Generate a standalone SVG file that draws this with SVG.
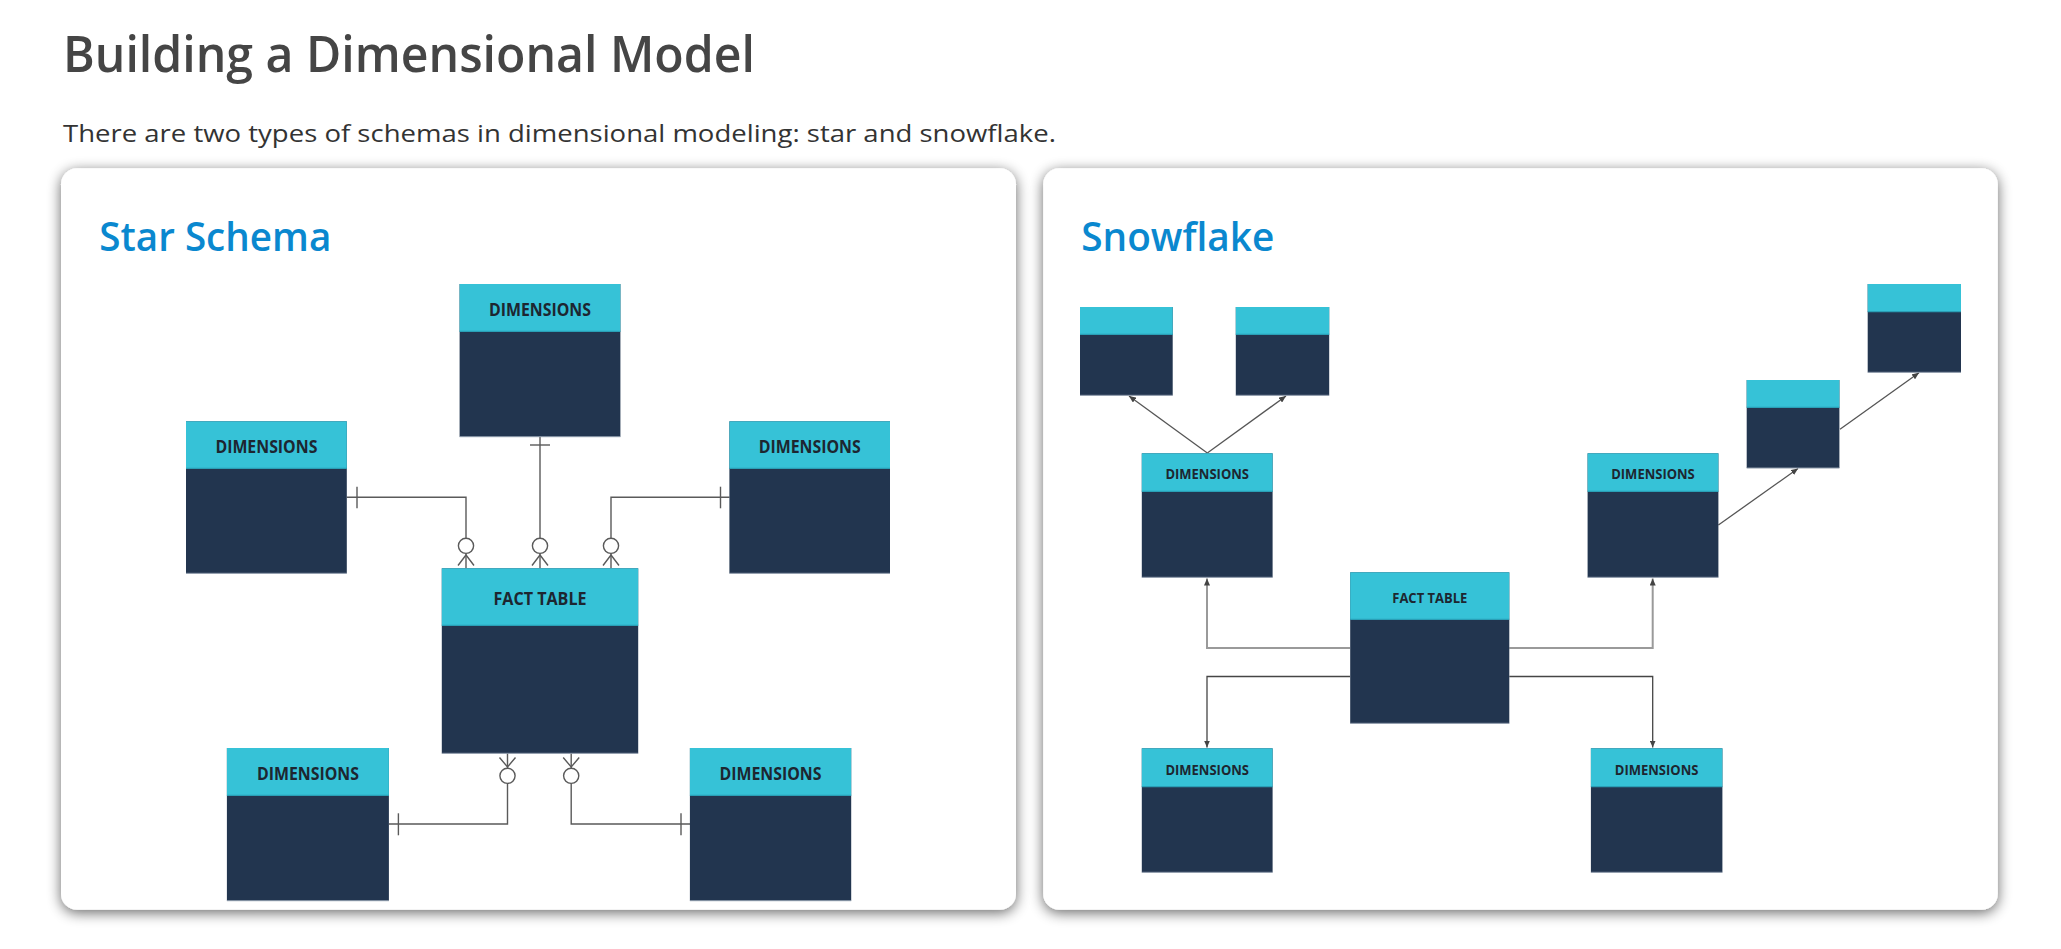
<svg xmlns="http://www.w3.org/2000/svg" width="2061" height="949" viewBox="0 0 2061 949">
<style>
.h1{font-family:"Open Sans","Liberation Sans",sans-serif;font-weight:600;fill:#454545}
.sub{font-family:"Open Sans","Liberation Sans",sans-serif;font-weight:400;fill:#333333}
.pt{font-family:"Open Sans","Liberation Sans",sans-serif;font-weight:600;fill:#0a88cf}
.lbl{font-family:"Open Sans","Liberation Sans",sans-serif;font-weight:700;fill:#1d2630;text-anchor:middle}
.hd{fill:#36c2d7}
.bd{fill:#22354f}
.ed{stroke:#8b98a8;stroke-width:1;fill:none}
.dv{stroke:#2a9fb6;stroke-width:1.2}
.er{stroke:#5a5a5a;stroke-width:1.4;fill:none}
.cir{stroke:#5a5a5a;stroke-width:1.4;fill:#ffffff}
.up{stroke:#9a9a9a;stroke-width:2;fill:none}
.dn{stroke:#454545;stroke-width:1.3;fill:none}
.dg{stroke:#555555;stroke-width:1.3;fill:none}
</style>
<defs>
<filter id="sh" x="-5%" y="-5%" width="110%" height="112%">
<feGaussianBlur in="SourceAlpha" stdDeviation="7"/>
<feOffset dy="3" result="b"/>
<feComponentTransfer><feFuncA type="linear" slope="0.6"/></feComponentTransfer>
<feMerge><feMergeNode/><feMergeNode in="SourceGraphic"/></feMerge>
</filter>
<marker id="ar" markerWidth="8" markerHeight="6" refX="7" refY="3" orient="auto" markerUnits="userSpaceOnUse">
<path d="M0,0 L7,3 L0,6 Z" fill="#444444"/>
</marker>
</defs>
<rect width="2061" height="949" fill="#ffffff"/>
<text class="h1" x="63" y="72" font-size="50" textLength="692" lengthAdjust="spacingAndGlyphs">Building a Dimensional Model</text>
<text class="sub" x="63" y="141.7" font-size="24" textLength="993" lengthAdjust="spacingAndGlyphs">There are two types of schemas in dimensional modeling: star and snowflake.</text>

<g id="star-panel">
<rect x="61" y="168.3" width="955" height="741.5" rx="16" fill="#ffffff" filter="url(#sh)"/>
<text class="pt" x="99.3" y="250.7" font-size="40.5" textLength="232" lengthAdjust="spacingAndGlyphs">Star Schema</text>
</g>
<g id="snow-panel">
<rect x="1043.2" y="168.3" width="954.6" height="741.5" rx="16" fill="#ffffff" filter="url(#sh)"/>
<text class="pt" x="1081.3" y="250.7" font-size="40.5" textLength="193" lengthAdjust="spacingAndGlyphs">Snowflake</text>
</g>

<g id="connectors">
<path class="er" d="M540,436.7 V568.3"/>
<path class="er" d="M530,445 H550"/>
<path class="er" d="M346.8,497.3 H466 V568.3"/>
<path class="er" d="M357,486.7 V508.3"/>
<path class="er" d="M729.5,497.3 H611 V568.3"/>
<path class="er" d="M720.5,486.7 V508.3"/>
<path class="er" d="M507.5,753.3 V824 H389"/>
<path class="er" d="M398.4,813.3 V835.3"/>
<path class="er" d="M571.2,753.3 V824 H690"/>
<path class="er" d="M681,813.3 V835.3"/>
<circle class="cir" cx="540" cy="545.8" r="7.6"/>
<circle class="cir" cx="466" cy="545.8" r="7.6"/>
<circle class="cir" cx="611" cy="545.8" r="7.6"/>
<circle class="cir" cx="507.5" cy="775.8" r="7.6"/>
<circle class="cir" cx="571.2" cy="775.8" r="7.6"/>
<path class="er" d="M532,565.5 L540,555 L548,565.5"/>
<path class="er" d="M458,565.5 L466,555 L474,565.5"/>
<path class="er" d="M603,565.5 L611,555 L619,565.5"/>
<path class="er" d="M499.5,757.5 L507.5,767 L515.5,757.5"/>
<path class="er" d="M563.2,757.5 L571.2,767 L579.2,757.5"/>
<path class="up" d="M1350,648 H1207 V578.5" marker-end="url(#ar)"/>
<path class="up" d="M1509.3,648 H1652.7 V578.5" marker-end="url(#ar)"/>
<path class="dn" d="M1350,676.5 H1207 V747.5" marker-end="url(#ar)"/>
<path class="dn" d="M1509.3,676.5 H1652.7 V747.5" marker-end="url(#ar)"/>
<path class="dg" d="M1207.3,453 L1129,396" marker-end="url(#ar)"/>
<path class="dg" d="M1207.3,453 L1286,396" marker-end="url(#ar)"/>
<path class="dg" d="M1718.4,525 L1798,468.5" marker-end="url(#ar)"/>
<path class="dg" d="M1840,429.3 L1919,372.8" marker-end="url(#ar)"/>
</g>

<g id="s-dim-top">
<rect class="bd" x="459.6" y="284" width="160.8" height="152.7"/>
<rect class="hd" x="459.6" y="284" width="160.8" height="47.3"/>
<line class="dv" x1="459.6" y1="331.3" x2="620.4" y2="331.3"/>
<line class="ed" x1="459.6" y1="436.7" x2="620.4" y2="436.7"/>
<text class="lbl" x="540" y="316" font-size="17" textLength="102" lengthAdjust="spacingAndGlyphs">DIMENSIONS</text>
</g>
<g id="s-dim-left">
<rect class="bd" x="186" y="421.3" width="160.8" height="152"/>
<rect class="hd" x="186" y="421.3" width="160.8" height="47"/>
<line class="dv" x1="186" y1="468.3" x2="346.8" y2="468.3"/>
<line class="ed" x1="186" y1="573.3" x2="346.8" y2="573.3"/>
<text class="lbl" x="266.4" y="453.3" font-size="17" textLength="102" lengthAdjust="spacingAndGlyphs">DIMENSIONS</text>
</g>
<g id="s-dim-right">
<rect class="bd" x="729.4" y="421.3" width="160.6" height="152"/>
<rect class="hd" x="729.4" y="421.3" width="160.6" height="47"/>
<line class="dv" x1="729.4" y1="468.3" x2="890" y2="468.3"/>
<line class="ed" x1="729.4" y1="573.3" x2="890" y2="573.3"/>
<text class="lbl" x="809.7" y="453.3" font-size="17" textLength="102" lengthAdjust="spacingAndGlyphs">DIMENSIONS</text>
</g>
<g id="s-fact">
<rect class="bd" x="441.8" y="568.3" width="196.4" height="185"/>
<rect class="hd" x="441.8" y="568.3" width="196.4" height="57"/>
<line class="dv" x1="441.8" y1="625.3" x2="638.2" y2="625.3"/>
<line class="ed" x1="441.8" y1="753.3" x2="638.2" y2="753.3"/>
<text class="lbl" x="540" y="605" font-size="17" textLength="93" lengthAdjust="spacingAndGlyphs">FACT TABLE</text>
</g>
<g id="s-dim-bl">
<rect class="bd" x="226.9" y="748" width="162" height="152.7"/>
<rect class="hd" x="226.9" y="748" width="162" height="47.3"/>
<line class="dv" x1="226.9" y1="795.3" x2="388.9" y2="795.3"/>
<line class="ed" x1="226.9" y1="900.7" x2="388.9" y2="900.7"/>
<text class="lbl" x="308" y="780" font-size="17" textLength="102" lengthAdjust="spacingAndGlyphs">DIMENSIONS</text>
</g>
<g id="s-dim-br">
<rect class="bd" x="689.9" y="748" width="161.3" height="152.7"/>
<rect class="hd" x="689.9" y="748" width="161.3" height="47.3"/>
<line class="dv" x1="689.9" y1="795.3" x2="851.2" y2="795.3"/>
<line class="ed" x1="689.9" y1="900.7" x2="851.2" y2="900.7"/>
<text class="lbl" x="770.5" y="780" font-size="17" textLength="102" lengthAdjust="spacingAndGlyphs">DIMENSIONS</text>
</g>

<g id="f-sub-1">
<rect class="bd" x="1080" y="307" width="92.7" height="88.3"/>
<rect class="hd" x="1080" y="307" width="92.7" height="27.3"/>
<line class="dv" x1="1080" y1="334.3" x2="1172.7" y2="334.3"/>
<line class="ed" x1="1080" y1="395.3" x2="1172.7" y2="395.3"/>
</g>
<g id="f-sub-2">
<rect class="bd" x="1235.8" y="307" width="93.4" height="88.3"/>
<rect class="hd" x="1235.8" y="307" width="93.4" height="27.3"/>
<line class="dv" x1="1235.8" y1="334.3" x2="1329.2" y2="334.3"/>
<line class="ed" x1="1235.8" y1="395.3" x2="1329.2" y2="395.3"/>
</g>
<g id="f-sub-3">
<rect class="bd" x="1746.7" y="380" width="92.7" height="88"/>
<rect class="hd" x="1746.7" y="380" width="92.7" height="27.3"/>
<line class="dv" x1="1746.7" y1="407.3" x2="1839.4" y2="407.3"/>
<line class="ed" x1="1746.7" y1="468" x2="1839.4" y2="468"/>
</g>
<g id="f-sub-4">
<rect class="bd" x="1867.7" y="284" width="93.3" height="88.3"/>
<rect class="hd" x="1867.7" y="284" width="93.3" height="27.7"/>
<line class="dv" x1="1867.7" y1="311.7" x2="1961" y2="311.7"/>
<line class="ed" x1="1867.7" y1="372.3" x2="1961" y2="372.3"/>
</g>
<g id="f-dim-tl">
<rect class="bd" x="1141.8" y="453.3" width="130.8" height="124"/>
<rect class="hd" x="1141.8" y="453.3" width="130.8" height="38"/>
<line class="dv" x1="1141.8" y1="491.3" x2="1272.6" y2="491.3"/>
<line class="ed" x1="1141.8" y1="577.3" x2="1272.6" y2="577.3"/>
<text class="lbl" x="1207.2" y="479" font-size="13.5" textLength="83.6" lengthAdjust="spacingAndGlyphs">DIMENSIONS</text>
</g>
<g id="f-dim-tr">
<rect class="bd" x="1587.6" y="453.3" width="130.8" height="124"/>
<rect class="hd" x="1587.6" y="453.3" width="130.8" height="38"/>
<line class="dv" x1="1587.6" y1="491.3" x2="1718.4" y2="491.3"/>
<line class="ed" x1="1587.6" y1="577.3" x2="1718.4" y2="577.3"/>
<text class="lbl" x="1653" y="479" font-size="13.5" textLength="83.6" lengthAdjust="spacingAndGlyphs">DIMENSIONS</text>
</g>
<g id="f-fact">
<rect class="bd" x="1350.2" y="572.3" width="159.1" height="151"/>
<rect class="hd" x="1350.2" y="572.3" width="159.1" height="47"/>
<line class="dv" x1="1350.2" y1="619.3" x2="1509.3" y2="619.3"/>
<line class="ed" x1="1350.2" y1="723.3" x2="1509.3" y2="723.3"/>
<text class="lbl" x="1429.8" y="602.7" font-size="13.5" textLength="75" lengthAdjust="spacingAndGlyphs">FACT TABLE</text>
</g>
<g id="f-dim-bl">
<rect class="bd" x="1141.8" y="748.3" width="130.8" height="124"/>
<rect class="hd" x="1141.8" y="748.3" width="130.8" height="38.4"/>
<line class="dv" x1="1141.8" y1="786.7" x2="1272.6" y2="786.7"/>
<line class="ed" x1="1141.8" y1="872.3" x2="1272.6" y2="872.3"/>
<text class="lbl" x="1207.2" y="775" font-size="13.5" textLength="83.6" lengthAdjust="spacingAndGlyphs">DIMENSIONS</text>
</g>
<g id="f-dim-br">
<rect class="bd" x="1590.9" y="748.3" width="131.5" height="124"/>
<rect class="hd" x="1590.9" y="748.3" width="131.5" height="38.4"/>
<line class="dv" x1="1590.9" y1="786.7" x2="1722.4" y2="786.7"/>
<line class="ed" x1="1590.9" y1="872.3" x2="1722.4" y2="872.3"/>
<text class="lbl" x="1656.6" y="775" font-size="13.5" textLength="83.6" lengthAdjust="spacingAndGlyphs">DIMENSIONS</text>
</g>
</svg>
